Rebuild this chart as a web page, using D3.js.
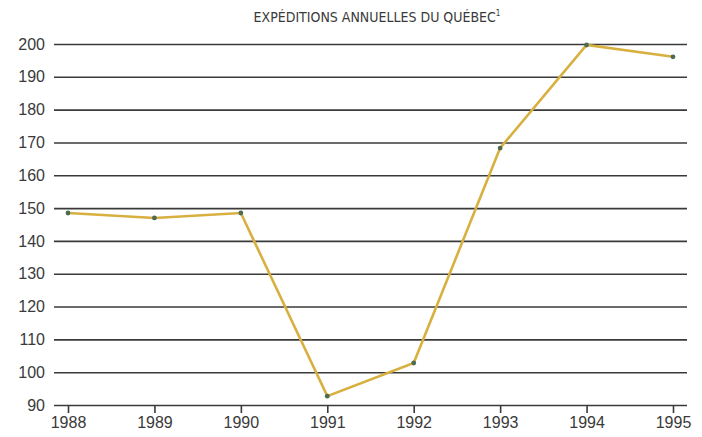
<!DOCTYPE html>
<html>
<head>
<meta charset="utf-8">
<script src="https://cdn.jsdelivr.net/npm/d3@7"></script>
<style>
  html, body { margin: 0; padding: 0; background: #fff; }
  svg { display: block; }
  text { font-family: "Liberation Sans Narrow", "DejaVu Sans Condensed", sans-serif; fill: #3a3a3a; }
</style>
</head>
<body>
<svg id="chart" width="702" height="437"></svg>
<script>
// Annual shipments from Québec
const years = [1988, 1989, 1990, 1991, 1992, 1993, 1994, 1995];
const shipments = [148.5, 147, 148.5, 92.7, 102.8, 168.3, 199.7, 196.1];
const yTicks = [90, 100, 110, 120, 130, 140, 150, 160, 170, 180, 190, 200];
const titleText = "EXPÉDITIONS ANNUELLES DU QUÉBEC";
const titleNote = "1";

const svg = d3.select("#chart");

const x = d3.scalePoint().domain(years).range([68, 673]);
const y = d3.scaleLinear().domain([90, 200]).range([405, 44]);

const gridLeft = 54, gridRight = 687;

// horizontal rules with value labels
const yAxis = d3.axisLeft(y)
  .tickValues(yTicks)
  .tickSize(-(gridRight - gridLeft))
  .tickPadding(9)
  .tickFormat(d3.format("d"));

const gy = svg.append("g")
  .attr("transform", `translate(${gridLeft},0)`)
  .call(yAxis);
gy.select(".domain").remove();
gy.selectAll(".tick line").attr("stroke", "#3a3a3a").attr("stroke-width", 1.6);
gy.selectAll(".tick text")
  .attr("font-size", 16)
  .attr("fill", "#3a3a3a")
  .style("font-family", "'Liberation Sans Narrow', sans-serif");

// year ticks below the baseline
const xAxis = d3.axisBottom(x).tickSize(8).tickPadding(4).tickFormat(d3.format("d"));
const gx = svg.append("g")
  .attr("transform", `translate(0,${y(90)})`)
  .call(xAxis);
gx.select(".domain").remove();
gx.selectAll(".tick line").attr("stroke", "#3a3a3a").attr("stroke-width", 1.6);
gx.selectAll(".tick text")
  .attr("font-size", 16)
  .attr("fill", "#3a3a3a")
  .style("font-family", "'Liberation Sans Narrow', sans-serif");

// series line
const line = d3.line()
  .x((d, i) => x(years[i]))
  .y(d => y(d));

svg.append("path")
  .datum(shipments)
  .attr("d", line)
  .attr("fill", "none")
  .attr("stroke", "#d8b040")
  .attr("stroke-width", 2.6)
  .attr("stroke-linejoin", "miter");

svg.append("g")
  .selectAll("circle")
  .data(shipments)
  .join("circle")
  .attr("cx", (d, i) => x(years[i]))
  .attr("cy", d => y(d))
  .attr("r", 2.4)
  .attr("fill", "#4d6b52");

// title
const title = svg.append("text")
  .attr("x", 377)
  .attr("y", 22)
  .attr("text-anchor", "middle")
  .attr("font-size", 14)
  .attr("fill", "#3a3a3a");
title.append("tspan").text(titleText);
title.append("tspan").attr("font-size", 8).attr("dy", -6).text(titleNote);
</script>
</body>
</html>
